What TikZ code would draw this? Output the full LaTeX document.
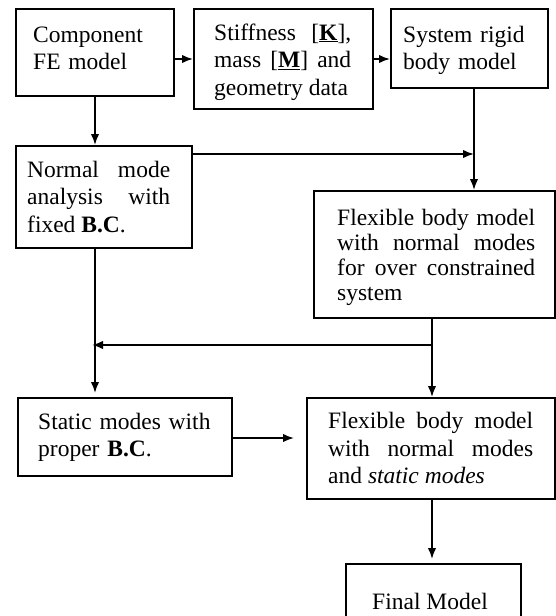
\documentclass[tikz,border=0pt]{standalone}
\usepackage{fontspec}
\setmainfont{Liberation Serif}
\usetikzlibrary{arrows.meta}
\begin{document}
\begin{tikzpicture}[x=1pt,y=-1pt,
  boxnode/.style={draw, line width=2pt, inner sep=0pt, anchor=north west},
  txt/.style={inner sep=0pt, anchor=base west, font=\fontsize{23.5}{27.5}\selectfont},
  conn/.style={line width=1.8pt, -{Latex[length=11pt,width=8.5pt]}}]
\useasboundingbox (0,0) rectangle (555,616);

% boxes
\node[boxnode, minimum width=158pt, minimum height=87pt]  (A) at (15,8) {};
\node[boxnode, minimum width=179pt, minimum height=100pt] (B) at (193,8) {};
\node[boxnode, minimum width=157pt, minimum height=79pt]  (C) at (390,8) {};
\node[boxnode, minimum width=176pt, minimum height=102pt] (D) at (15,145) {};
\node[boxnode, minimum width=241pt, minimum height=127pt] (E) at (313,190) {};
\node[boxnode, minimum width=214pt, minimum height=78pt]  (G) at (17,397) {};
\node[boxnode, minimum width=248pt, minimum height=101pt] (F) at (306,397) {};
\node[boxnode, minimum width=175pt, minimum height=80pt]  (H) at (345,563) {};

% texts
\node[txt, text width=140pt, align=left] (At) at (33,42) {Component\\FE model};
\node[txt, text width=137pt, align=justify] (Bt) at (214,40)
  {Stiffness [\underline{\textbf{K}}],\linebreak mass [\underline{\textbf{M}}] and\linebreak geometry data};
\node[txt, text width=140pt, align=left] (Ct) at (403,42) {System rigid\\body model};
\node[txt, text width=143pt, align=justify] (Dt) at (27,177)
  {Normal mode\linebreak analysis with\linebreak fixed \textbf{B.C}.};
\node[txt, text width=198pt, align=justify, font=\fontsize{23.5}{25}\selectfont] (Et) at (337,225.5)
  {Flexible body model\linebreak with normal modes\linebreak for over constrained\linebreak system};
\node[txt, text width=190pt, align=left] (Gt) at (38,429) {Static modes with\\proper \textbf{B.C}.};
\node[txt, text width=205pt, align=justify] (Ft) at (328,428.5)
  {Flexible body model\linebreak with normal modes\linebreak and \textit{static modes}};
\node[txt, anchor=base] (Ht) at (430,609) {Final Model};

% helper coordinates
\coordinate (ax) at (A.south);
\coordinate (cs) at ([xshift=4.5pt]C.south);
\coordinate (es) at ([xshift=-2.5pt]E.south);
\coordinate (d1) at ([yshift=-9pt]D.north east);
\coordinate (j2) at ([yshift=-26pt]es);
\coordinate (g1) at ([yshift=-1pt]G.east);

% connectors
\draw[conn] (A.east |- B.east) -- (B.west);
\draw[conn] (B.east) -- (B.east -| C.west);
\draw[conn] (ax) -- (ax |- D.north);
\draw[conn] (d1) -- (d1 -| cs);
\draw[conn] (cs) -- (cs |- E.north);
\draw[conn] (es) -- (es |- F.north);
\draw[conn, shorten >=-3pt] (j2) -- (j2 -| ax);
\draw[conn, shorten >=4pt] (ax |- D.south) -- (ax |- G.north);
\draw[conn, shorten >=12pt] (g1) -- (g1 -| F.west);
\draw[conn, shorten >=4pt] (es |- F.south) -- (es |- H.north);
\end{tikzpicture}
\end{document}
